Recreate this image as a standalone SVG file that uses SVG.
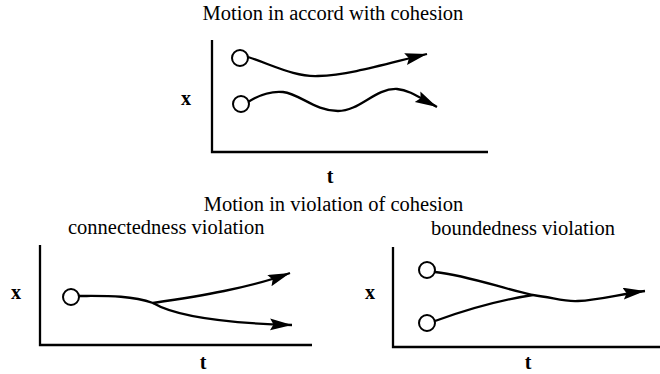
<svg xmlns="http://www.w3.org/2000/svg" width="660" height="374" viewBox="0 0 660 374">
<style>
.title{font-family:"Liberation Serif","Times New Roman",serif;font-size:20.5px;fill:#000}
.lab{font-family:"Liberation Serif","Times New Roman",serif;font-size:20px;font-weight:bold;fill:#000}
.axis{fill:none;stroke:#000;stroke-width:2.3}
.curve{fill:none;stroke:#000;stroke-width:2.3}
.dot{fill:#fff;stroke:#000;stroke-width:2}
</style>
<defs>
<marker id="ah" markerUnits="userSpaceOnUse" markerWidth="24" markerHeight="13" refX="22" refY="6" orient="auto" viewBox="0 0 24 13">
<path d="M0,0 L22,6 L0,12 L3.5,6 z" fill="#000"/>
</marker>
</defs>
<rect width="660" height="374" fill="#fff"/>
<text class="title" x="333" y="20" text-anchor="middle">Motion in accord with cohesion</text>
<text class="title" x="333.5" y="211" text-anchor="middle">Motion in violation of cohesion</text>
<text class="title" x="68" y="234">connectedness violation</text>
<text class="title" x="431" y="235">boundedness violation</text>

<g id="panel-top">
<path class="axis" d="M212,40 L212,152 L488,152"/>
<text class="lab" x="186" y="105" text-anchor="middle">x</text>
<text class="lab" x="330" y="183" text-anchor="middle">t</text>
</g>
<g id="panel-connectedness">
<path class="axis" d="M40,245 L40,345 L312,345"/>
<text class="lab" x="16" y="299" text-anchor="middle">x</text>
<text class="lab" x="203" y="369" text-anchor="middle">t</text>
</g>
<g id="panel-boundedness">
<path class="axis" d="M393,247 L393,347 L660,347"/>
<text class="lab" x="370" y="299" text-anchor="middle">x</text>
<text class="lab" x="528" y="369" text-anchor="middle">t</text>
</g>

<g id="connectors">
<path class="curve" d="M248,57 C275,66 295,77 318,76 C350,75 385,64 427,54" marker-end="url(#ah)"/>
<path class="curve" d="M248,102 C262,93 272,91 283,92 C300,94 315,111 338,111 C360,111 375,88 397,89 C410,90 420,98 437,107" marker-end="url(#ah)"/>
<path class="curve" d="M79,296 C105,296 130,295 153,303 C200,296 250,288 290,273" marker-end="url(#ah)"/>
<path class="curve" d="M153,303 C175,316 220,323 292,325" marker-end="url(#ah)"/>
<path class="curve" d="M435,272 C470,276 500,288 533,295 C555,298 565,302 578,301 C600,300 620,294 645,291" marker-end="url(#ah)"/>
<path class="curve" d="M435,321 C465,310 500,300 533,295"/>
</g>

<g id="node-top-1"><circle class="dot" cx="240" cy="58" r="8"/></g>
<g id="node-top-2"><circle class="dot" cx="241" cy="104" r="8"/></g>
<g id="node-conn"><circle class="dot" cx="71" cy="297" r="8"/></g>
<g id="node-bound-1"><circle class="dot" cx="427" cy="270" r="8"/></g>
<g id="node-bound-2"><circle class="dot" cx="427" cy="323" r="8"/></g>
</svg>
